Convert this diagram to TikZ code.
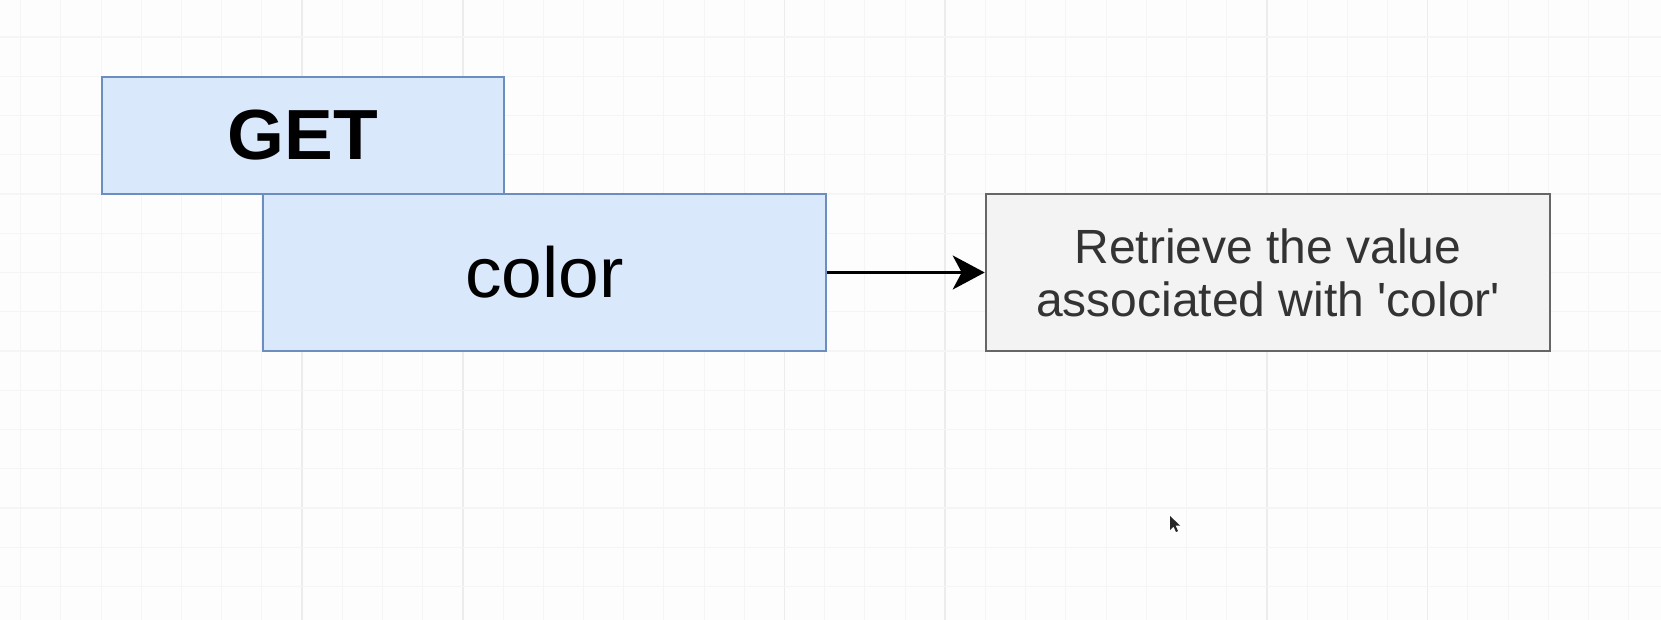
\documentclass[tikz,border=0pt]{standalone}
\usepackage{fontspec}
\setmainfont{Liberation Sans}
\usetikzlibrary{arrows.meta}
\definecolor{bgcol}{HTML}{FDFDFD}
\definecolor{bluefill}{HTML}{DAE8FC}
\definecolor{blueline}{HTML}{6C8EBF}
\definecolor{grayfill}{HTML}{F3F3F3}
\definecolor{grayline}{HTML}{666666}
\definecolor{gridminor}{HTML}{F5F5F5}
\definecolor{gridmajor}{HTML}{ECECEC}
\definecolor{txtgray}{HTML}{333333}
\tikzset{
  bluebox/.style={draw=blueline, fill=bluefill, line width=2.6pt, rectangle, inner sep=0pt},
  graybox/.style={draw=grayline, fill=grayfill, line width=2.6pt, rectangle, inner sep=0pt, align=center},
  conn/.style={line width=2.8pt, -{Stealth[length=32pt, width=34pt, inset=9pt]}},
}
\begin{document}
\begin{tikzpicture}[x=1pt, y=-1pt]
\useasboundingbox (0,0) rectangle (1661,620);
\fill[bgcol] (0,0) rectangle (1661,620);
% grid
\foreach \k in {-7,...,34} {
  \pgfmathsetmacro{\xx}{302+40.2*\k}
  \pgfmathtruncatemacro{\m}{mod(\k+36,12)}
  \ifnum\m=0
    \draw[gridmajor, line width=1.5pt] (\xx,0) -- (\xx,620);
  \else\ifnum\m=4
    \draw[gridmajor, line width=1.5pt] (\xx,0) -- (\xx,620);
  \else
    \draw[gridminor, line width=1pt] (\xx,0) -- (\xx,620);
  \fi\fi
}
\foreach \j in {-4,...,10} {
  \pgfmathsetmacro{\yy}{194+39.25*\j}
  \draw[gridminor, line width=1.1pt] (0,\yy) -- (1661,\yy);
}
% boxes
\node[bluebox, minimum width=402pt, minimum height=117pt, font=\fontsize{71}{80}\selectfont\bfseries] (get) at (303,135.5)
  {\raisebox{-3pt}{\scalebox{1.03}[1]{GET}}};
\node[bluebox, minimum width=563pt, minimum height=157pt, font=\fontsize{71}{80}\selectfont] (key) at (544.5,272.5)
  {\raisebox{-3pt}{\scalebox{1.03}[1]{color}}};
\node[graybox, minimum width=564pt, minimum height=157pt, text=txtgray, font=\fontsize{48}{53}\selectfont] (ret) at (1268,272.5)
  {Retrieve the value\\associated with \textquotesingle color\textquotesingle};
% connector
\draw[conn] (key.east) -- (ret.west);
% mouse cursor
\fill[black!85] (1170,516) -- (1170,530) -- (1173.5,526.5) -- (1176,532) -- (1178,531) -- (1175.5,525.5) -- (1180,525.5) -- cycle;
\end{tikzpicture}
\end{document}
